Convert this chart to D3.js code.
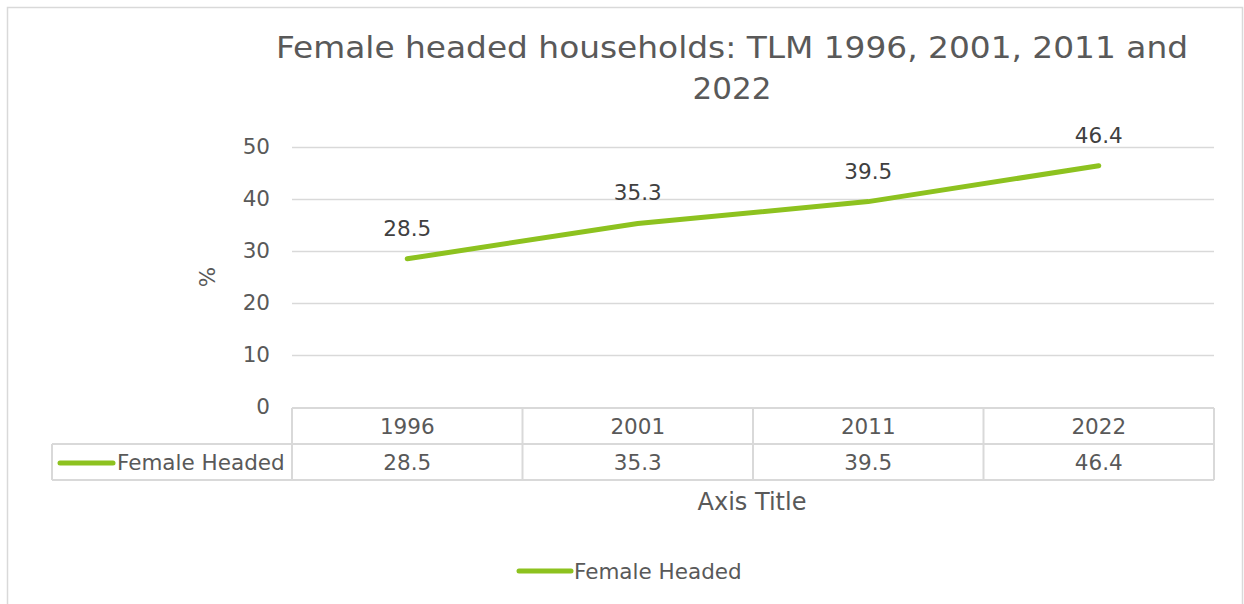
<!DOCTYPE html>
<html><head><meta charset="utf-8">
<script src="https://cdn.jsdelivr.net/npm/d3@7"></script>
<style>body{margin:0;background:#fff;} svg{display:block;font-family:"DejaVu Sans",sans-serif;}</style>
</head><body>
<svg id="c" width="1244" height="604"></svg>
<script>
const categories = ["1996", "2001", "2011", "2022"];
const seriesName = "Female Headed";
const values = [28.5, 35.3, 39.5, 46.4];
const yTicks = [0, 10, 20, 30, 40, 50];
const titleLines = ["Female headed households: TLM 1996, 2001, 2011 and", "2022"];

const svg = d3.select("#c");
const green = "#8DC21F", textC = "#595959", gridC = "#D9D9D9";
const fs = "21.5px";

// outer border
svg.append("rect").attr("x", 7.5).attr("y", 7.5).attr("width", 1235).attr("height", 620)
  .attr("fill", "none").attr("stroke", gridC).attr("stroke-width", 1.5);

const x0 = 292, x1 = 1214;
const x = d3.scaleBand().domain(categories).range([x0, x1]);
const y = d3.scaleLinear().domain([0, 50]).range([407, 147]);

// title
svg.append("g").selectAll("text").data(titleLines).join("text")
  .attr("x", 732).attr("y", (d, i) => 58 + i * 41)
  .attr("text-anchor", "middle").attr("fill", textC)
  .style("font-size", "31px")
  .attr("textLength", (d, i) => i === 0 ? 912 : null)
  .attr("lengthAdjust", "spacingAndGlyphs")
  .text(d => d);

// gridlines
const yAxis = d3.axisLeft(y).tickValues(yTicks).tickSize(-(x1 - x0)).tickPadding(22);
const ga = svg.append("g").attr("transform", `translate(${x0},0)`).call(yAxis);
ga.select(".domain").remove();
ga.selectAll(".tick line").attr("stroke", gridC).attr("stroke-width", 1.5)
  .filter(d => d === 0).remove();
ga.selectAll(".tick text").attr("fill", textC).style("font-size", fs)
  .style("font-family", "DejaVu Sans").attr("dy", "0.3em");

// y-axis title
svg.append("text").attr("transform", "translate(215,277) rotate(-90)")
  .attr("text-anchor", "middle").attr("fill", textC).style("font-size", fs).text("%");

// data table
const rowT = 408, rowH = 36;
const tbl = svg.append("g");
tbl.append("line").attr("x1", x0).attr("x2", x1).attr("y1", rowT).attr("y2", rowT).attr("stroke", gridC).attr("stroke-width", 2);
tbl.append("line").attr("x1", 52).attr("x2", x1).attr("y1", rowT + rowH).attr("y2", rowT + rowH).attr("stroke", gridC).attr("stroke-width", 2);
tbl.append("line").attr("x1", 52).attr("x2", x1).attr("y1", rowT + 2 * rowH).attr("y2", rowT + 2 * rowH).attr("stroke", gridC).attr("stroke-width", 2);
tbl.append("line").attr("x1", 52).attr("x2", 52).attr("y1", rowT + rowH).attr("y2", rowT + 2 * rowH).attr("stroke", gridC).attr("stroke-width", 2);
const bounds = categories.map(c => x(c)).concat([x1]);
tbl.selectAll("line.v").data(bounds).join("line").attr("class", "v")
  .attr("x1", d => d).attr("x2", d => d).attr("y1", rowT).attr("y2", rowT + 2 * rowH)
  .attr("stroke", gridC).attr("stroke-width", 2);
tbl.selectAll("text.cat").data(categories).join("text").attr("class", "cat")
  .attr("x", d => x(d) + x.bandwidth() / 2).attr("y", rowT + rowH / 2 + 8)
  .attr("text-anchor", "middle").attr("fill", textC).style("font-size", fs).text(d => d);
tbl.selectAll("text.val").data(values).join("text").attr("class", "val")
  .attr("x", (d, i) => x(categories[i]) + x.bandwidth() / 2).attr("y", rowT + rowH * 1.5 + 8)
  .attr("text-anchor", "middle").attr("fill", textC).style("font-size", fs).text(d => d.toFixed(1));
tbl.append("line").attr("x1", 60).attr("x2", 113).attr("y1", rowT + rowH * 1.5 + 1).attr("y2", rowT + rowH * 1.5 + 1)
  .attr("stroke", green).attr("stroke-width", 5).attr("stroke-linecap", "round");
tbl.append("text").attr("x", 117).attr("y", rowT + rowH * 1.5 + 8).attr("fill", textC)
  .style("font-size", fs).text(seriesName);

// line
const line = d3.line().x((d, i) => x(categories[i]) + x.bandwidth() / 2).y(d => y(d));
svg.append("path").datum(values).attr("d", line).attr("fill", "none")
  .attr("stroke", green).attr("stroke-width", 5).attr("stroke-linecap", "round").attr("stroke-linejoin", "round");

// data labels
svg.selectAll("text.dl").data(values).join("text").attr("class", "dl")
  .attr("x", (d, i) => x(categories[i]) + x.bandwidth() / 2)
  .attr("y", d => y(d) - 23)
  .attr("text-anchor", "middle").attr("fill", "#404040").style("font-size", fs).text(d => d.toFixed(1));

// x axis title
svg.append("text").attr("x", 752).attr("y", 510).attr("text-anchor", "middle").attr("fill", textC)
  .style("font-size", "24px").text("Axis Title");

// legend
svg.append("line").attr("x1", 519).attr("x2", 571).attr("y1", 571).attr("y2", 571)
  .attr("stroke", green).attr("stroke-width", 5).attr("stroke-linecap", "round");
svg.append("text").attr("x", 574).attr("y", 579).attr("fill", textC).style("font-size", fs).text(seriesName);
</script>
</body></html>
